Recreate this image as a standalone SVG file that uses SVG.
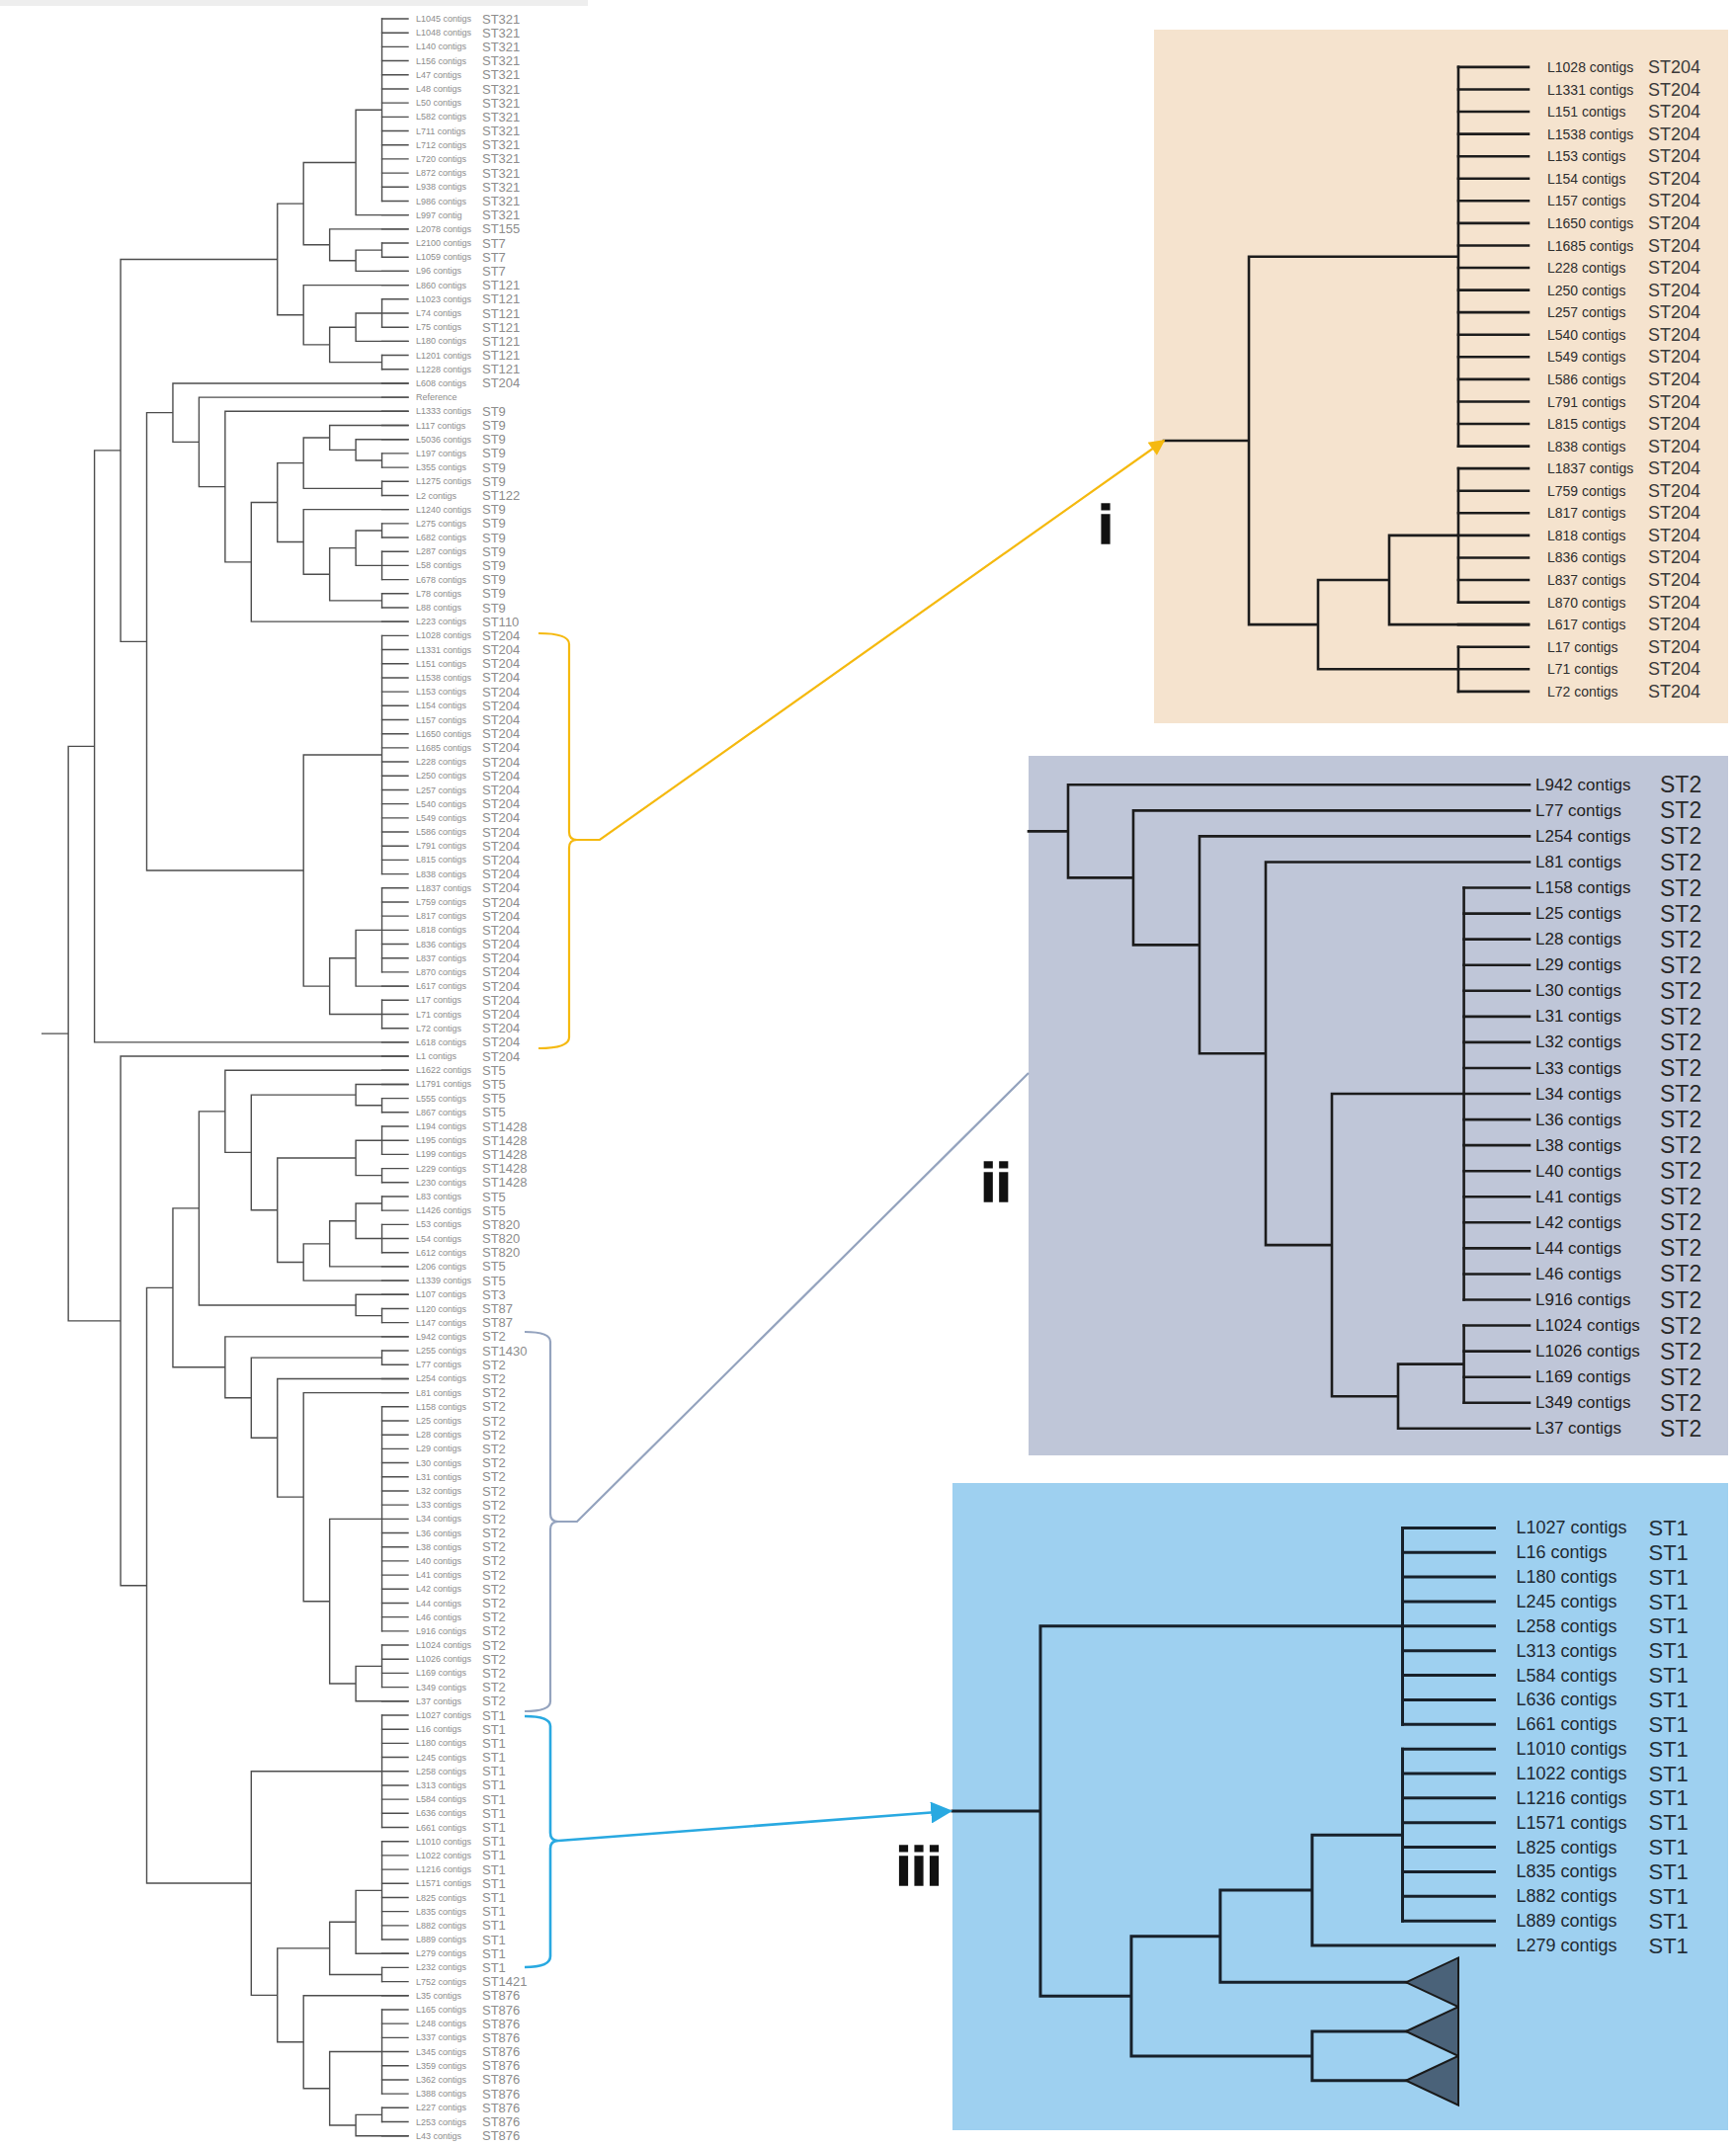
<svg xmlns="http://www.w3.org/2000/svg" width="1757" height="2173" viewBox="0 0 1757 2173">
<style>
text{font-family:"Liberation Sans",Arial,sans-serif;dominant-baseline:central}
.t{fill:none;stroke:#4d4d4d;stroke-width:1.4;stroke-linecap:square}
.p{fill:none;stroke:#1c1c1c;stroke-width:2.6;stroke-linecap:square}
.p3{fill:none;stroke:#17202a;stroke-width:3;stroke-linecap:square}
.n{font-size:9px;fill:#8c8c8c}
.s{font-size:13px;fill:#8c8c8c}
.n1{font-size:14px;fill:#2e2e2e}
.s1{font-size:18px;fill:#3a3a3a}
.n2{font-size:17px;fill:#1f1f1f}
.s2{font-size:23px;fill:#2a2a2a}
.n3{font-size:18px;fill:#1f2a33}
.s3{font-size:22px;fill:#243039}
.lab{font-size:56px;font-weight:bold;fill:#111;text-anchor:middle;dominant-baseline:auto;stroke:#111;stroke-width:1.5}
.tri{fill:#4a6279;stroke:#1a1a1a;stroke-width:2}
</style>
<defs>
<marker id="ay" viewBox="0 0 10 10" refX="9" refY="5" markerWidth="18" markerHeight="16" markerUnits="userSpaceOnUse" orient="auto"><path d="M0,0L10,5L0,10z" fill="#F5B90F"/></marker>
<marker id="ab" viewBox="0 0 10 10" refX="9" refY="5" markerWidth="22" markerHeight="22" markerUnits="userSpaceOnUse" orient="auto"><path d="M0,0L10,5L0,10z" fill="#29A9E1"/></marker>
</defs>
<rect width="1757" height="2173" fill="#ffffff"/>
<rect x="0" y="0" width="595" height="6" fill="#eeeeee"/>

<g id="left-tree" transform="matrix(26.45 0 0 14.19 42.7 19)">
<path class="t" vector-effect="non-scaling-stroke" d="M0 72.384H1M1 51.895V92.874M1 51.895H2M1 92.874H3
M2 30.789V73M2 30.789H3M2 73H14
M3 17.156V44.422M3 17.156H9M3 44.422H4
M9 13.188V21.125M9 13.188H10M9 21.125H10
M10 10.25V16.125M10 10.25H12M10 16.125H11
M12 6.5V14M12 6.5H13M12 14H14M13 0V13
M11 15V17.25M11 15H14M11 17.25H12
M12 16.5V18M12 16.5H13M12 18H14M13 16V17
M10 19V23.25M10 19H14M10 23.25H11
M11 22V24.5M11 22H12M11 24.5H13
M12 21V23M12 21H13M12 23H14M13 20V22M13 24V25
M4 28.094V60.75M4 28.094H5M4 60.75H10
M5 26V30.188M5 26H14M5 30.188H6
M6 27V33.375M6 27H14M6 33.375H7
M7 28V38.75M7 28H14M7 38.75H8
M8 34.5V43M8 34.5H9M8 43H14
M9 31.688V37.313M9 31.688H10M9 37.313H10
M10 29.875V33.5M10 29.875H11M10 33.5H13
M11 29V30.75M11 29H14M11 30.75H12
M12 30V31.5M12 30H14M12 31.5H13M13 31V32M13 33V34
M10 35V39.625M10 35H14M10 39.625H11
M11 37.75V41.5M11 37.75H12M11 41.5H13
M12 36.5V39M12 36.5H13M12 39H13M13 36V37M13 38V40M13 41V42
M10 52.5V69M10 52.5H13M10 69H11M13 44V61
M11 67V71M11 67H12M11 71H13
M12 65V69M12 65H13M12 69H14M13 62V68M13 70V72
M3 74V111.747M3 74H14M3 111.747H4
M4 90.51V132.984M4 90.51H5M4 132.984H8
M5 84.84V96.18M5 84.84H6M5 96.18H7
M6 77.93V91.75M6 77.93H7M6 91.75H12
M7 75V80.859M7 75H14M7 80.859H8
M8 76.75V84.969M8 76.75H12M8 84.969H9
M12 76V77.5M12 76H14M12 77.5H13M13 77V78
M9 81.25V88.688M9 81.25H12M9 88.688H10
M12 80V82.5M12 80H13M12 82.5H13M13 79V81M13 82V83
M10 87.375V90M10 87.375H11M10 90H14
M11 85.75V89M11 85.75H12M11 89H14
M12 84.5V87M12 84.5H13M12 87H13M13 84V85M13 86V88
M12 91V92.5M12 91H14M12 92.5H13M13 92V93
M7 94V98.359M7 94H14M7 98.359H8
M8 95.5V101.219M8 95.5H13M8 101.219H9M13 95V96
M9 97V105.438M9 97H14M9 105.438H10
M10 98V112.875M10 98H14M10 112.875H11
M11 107V118.75M11 107H13M11 118.75H12M13 99V115
M12 117.5V120M12 117.5H13M12 120H14M13 116V119
M8 125V140.969M8 125H13M8 140.969H9M13 121V129
M9 137.625V144.313M9 137.625H11M9 144.313H10
M11 135.75V139.5M11 135.75H12M11 139.5H13
M12 133.5V138M12 133.5H13M12 138H14M13 130V137M13 139V140
M10 141V147.625M10 141H14M10 147.625H11
M11 145V150.25M11 145H13M11 150.25H12M13 142V148
M12 149.5V151M12 149.5H13M12 151H14M13 149V150"/>
<path class="t" vector-effect="non-scaling-stroke" d="M13 0h1m-1 1h1m-1 1h1m-1 1h1m-1 1h1m-1 1h1m-1 1h1m-1 1h1m-1 1h1m-1 1h1
M13 10h1m-1 1h1m-1 1h1m-1 1h1m-1 1h1m-1 1h1m-1 1h1m-1 1h1m-1 1h1m-1 1h1
M13 20h1m-1 1h1m-1 1h1m-1 1h1m-1 1h1m-1 1h1m-1 1h1m-1 1h1m-1 1h1m-1 1h1
M13 30h1m-1 1h1m-1 1h1m-1 1h1m-1 1h1m-1 1h1m-1 1h1m-1 1h1m-1 1h1m-1 1h1
M13 40h1m-1 1h1m-1 1h1m-1 1h1m-1 1h1m-1 1h1m-1 1h1m-1 1h1m-1 1h1m-1 1h1
M13 50h1m-1 1h1m-1 1h1m-1 1h1m-1 1h1m-1 1h1m-1 1h1m-1 1h1m-1 1h1m-1 1h1
M13 60h1m-1 1h1m-1 1h1m-1 1h1m-1 1h1m-1 1h1m-1 1h1m-1 1h1m-1 1h1m-1 1h1
M13 70h1m-1 1h1m-1 1h1m-1 1h1m-1 1h1m-1 1h1m-1 1h1m-1 1h1m-1 1h1m-1 1h1
M13 80h1m-1 1h1m-1 1h1m-1 1h1m-1 1h1m-1 1h1m-1 1h1m-1 1h1m-1 1h1m-1 1h1
M13 90h1m-1 1h1m-1 1h1m-1 1h1m-1 1h1m-1 1h1m-1 1h1m-1 1h1m-1 1h1m-1 1h1
M13 100h1m-1 1h1m-1 1h1m-1 1h1m-1 1h1m-1 1h1m-1 1h1m-1 1h1m-1 1h1m-1 1h1
M13 110h1m-1 1h1m-1 1h1m-1 1h1m-1 1h1m-1 1h1m-1 1h1m-1 1h1m-1 1h1m-1 1h1
M13 120h1m-1 1h1m-1 1h1m-1 1h1m-1 1h1m-1 1h1m-1 1h1m-1 1h1m-1 1h1m-1 1h1
M13 130h1m-1 1h1m-1 1h1m-1 1h1m-1 1h1m-1 1h1m-1 1h1m-1 1h1m-1 1h1m-1 1h1
M13 140h1m-1 1h1m-1 1h1m-1 1h1m-1 1h1m-1 1h1m-1 1h1m-1 1h1m-1 1h1m-1 1h1
M13 150h1m-1 1h1"/>
</g>

<g id="left-labels">
<text class="n" x="421" y="19.0">L1045 contigs</text><text class="s" x="488" y="19.0">ST321</text>
<text class="n" x="421" y="33.2">L1048 contigs</text><text class="s" x="488" y="33.2">ST321</text>
<text class="n" x="421" y="47.4">L140 contigs</text><text class="s" x="488" y="47.4">ST321</text>
<text class="n" x="421" y="61.6">L156 contigs</text><text class="s" x="488" y="61.6">ST321</text>
<text class="n" x="421" y="75.8">L47 contigs</text><text class="s" x="488" y="75.8">ST321</text>
<text class="n" x="421" y="90.0">L48 contigs</text><text class="s" x="488" y="90.0">ST321</text>
<text class="n" x="421" y="104.1">L50 contigs</text><text class="s" x="488" y="104.1">ST321</text>
<text class="n" x="421" y="118.3">L582 contigs</text><text class="s" x="488" y="118.3">ST321</text>
<text class="n" x="421" y="132.5">L711 contigs</text><text class="s" x="488" y="132.5">ST321</text>
<text class="n" x="421" y="146.7">L712 contigs</text><text class="s" x="488" y="146.7">ST321</text>
<text class="n" x="421" y="160.9">L720 contigs</text><text class="s" x="488" y="160.9">ST321</text>
<text class="n" x="421" y="175.1">L872 contigs</text><text class="s" x="488" y="175.1">ST321</text>
<text class="n" x="421" y="189.3">L938 contigs</text><text class="s" x="488" y="189.3">ST321</text>
<text class="n" x="421" y="203.5">L986 contigs</text><text class="s" x="488" y="203.5">ST321</text>
<text class="n" x="421" y="217.7">L997 contig</text><text class="s" x="488" y="217.7">ST321</text>
<text class="n" x="421" y="231.9">L2078 contigs</text><text class="s" x="488" y="231.9">ST155</text>
<text class="n" x="421" y="246.0">L2100 contigs</text><text class="s" x="488" y="246.0">ST7</text>
<text class="n" x="421" y="260.2">L1059 contigs</text><text class="s" x="488" y="260.2">ST7</text>
<text class="n" x="421" y="274.4">L96 contigs</text><text class="s" x="488" y="274.4">ST7</text>
<text class="n" x="421" y="288.6">L860 contigs</text><text class="s" x="488" y="288.6">ST121</text>
<text class="n" x="421" y="302.8">L1023 contigs</text><text class="s" x="488" y="302.8">ST121</text>
<text class="n" x="421" y="317.0">L74 contigs</text><text class="s" x="488" y="317.0">ST121</text>
<text class="n" x="421" y="331.2">L75 contigs</text><text class="s" x="488" y="331.2">ST121</text>
<text class="n" x="421" y="345.4">L180 contigs</text><text class="s" x="488" y="345.4">ST121</text>
<text class="n" x="421" y="359.6">L1201 contigs</text><text class="s" x="488" y="359.6">ST121</text>
<text class="n" x="421" y="373.8">L1228 contigs</text><text class="s" x="488" y="373.8">ST121</text>
<text class="n" x="421" y="387.9">L608 contigs</text><text class="s" x="488" y="387.9">ST204</text>
<text class="n" x="421" y="402.1">Reference</text>
<text class="n" x="421" y="416.3">L1333 contigs</text><text class="s" x="488" y="416.3">ST9</text>
<text class="n" x="421" y="430.5">L117 contigs</text><text class="s" x="488" y="430.5">ST9</text>
<text class="n" x="421" y="444.7">L5036 contigs</text><text class="s" x="488" y="444.7">ST9</text>
<text class="n" x="421" y="458.9">L197 contigs</text><text class="s" x="488" y="458.9">ST9</text>
<text class="n" x="421" y="473.1">L355 contigs</text><text class="s" x="488" y="473.1">ST9</text>
<text class="n" x="421" y="487.3">L1275 contigs</text><text class="s" x="488" y="487.3">ST9</text>
<text class="n" x="421" y="501.5">L2 contigs</text><text class="s" x="488" y="501.5">ST122</text>
<text class="n" x="421" y="515.7">L1240 contigs</text><text class="s" x="488" y="515.7">ST9</text>
<text class="n" x="421" y="529.8">L275 contigs</text><text class="s" x="488" y="529.8">ST9</text>
<text class="n" x="421" y="544.0">L682 contigs</text><text class="s" x="488" y="544.0">ST9</text>
<text class="n" x="421" y="558.2">L287 contigs</text><text class="s" x="488" y="558.2">ST9</text>
<text class="n" x="421" y="572.4">L58 contigs</text><text class="s" x="488" y="572.4">ST9</text>
<text class="n" x="421" y="586.6">L678 contigs</text><text class="s" x="488" y="586.6">ST9</text>
<text class="n" x="421" y="600.8">L78 contigs</text><text class="s" x="488" y="600.8">ST9</text>
<text class="n" x="421" y="615.0">L88 contigs</text><text class="s" x="488" y="615.0">ST9</text>
<text class="n" x="421" y="629.2">L223 contigs</text><text class="s" x="488" y="629.2">ST110</text>
<text class="n" x="421" y="643.4">L1028 contigs</text><text class="s" x="488" y="643.4">ST204</text>
<text class="n" x="421" y="657.6">L1331 contigs</text><text class="s" x="488" y="657.6">ST204</text>
<text class="n" x="421" y="671.7">L151 contigs</text><text class="s" x="488" y="671.7">ST204</text>
<text class="n" x="421" y="685.9">L1538 contigs</text><text class="s" x="488" y="685.9">ST204</text>
<text class="n" x="421" y="700.1">L153 contigs</text><text class="s" x="488" y="700.1">ST204</text>
<text class="n" x="421" y="714.3">L154 contigs</text><text class="s" x="488" y="714.3">ST204</text>
<text class="n" x="421" y="728.5">L157 contigs</text><text class="s" x="488" y="728.5">ST204</text>
<text class="n" x="421" y="742.7">L1650 contigs</text><text class="s" x="488" y="742.7">ST204</text>
<text class="n" x="421" y="756.9">L1685 contigs</text><text class="s" x="488" y="756.9">ST204</text>
<text class="n" x="421" y="771.1">L228 contigs</text><text class="s" x="488" y="771.1">ST204</text>
<text class="n" x="421" y="785.3">L250 contigs</text><text class="s" x="488" y="785.3">ST204</text>
<text class="n" x="421" y="799.5">L257 contigs</text><text class="s" x="488" y="799.5">ST204</text>
<text class="n" x="421" y="813.6">L540 contigs</text><text class="s" x="488" y="813.6">ST204</text>
<text class="n" x="421" y="827.8">L549 contigs</text><text class="s" x="488" y="827.8">ST204</text>
<text class="n" x="421" y="842.0">L586 contigs</text><text class="s" x="488" y="842.0">ST204</text>
<text class="n" x="421" y="856.2">L791 contigs</text><text class="s" x="488" y="856.2">ST204</text>
<text class="n" x="421" y="870.4">L815 contigs</text><text class="s" x="488" y="870.4">ST204</text>
<text class="n" x="421" y="884.6">L838 contigs</text><text class="s" x="488" y="884.6">ST204</text>
<text class="n" x="421" y="898.8">L1837 contigs</text><text class="s" x="488" y="898.8">ST204</text>
<text class="n" x="421" y="913.0">L759 contigs</text><text class="s" x="488" y="913.0">ST204</text>
<text class="n" x="421" y="927.2">L817 contigs</text><text class="s" x="488" y="927.2">ST204</text>
<text class="n" x="421" y="941.4">L818 contigs</text><text class="s" x="488" y="941.4">ST204</text>
<text class="n" x="421" y="955.5">L836 contigs</text><text class="s" x="488" y="955.5">ST204</text>
<text class="n" x="421" y="969.7">L837 contigs</text><text class="s" x="488" y="969.7">ST204</text>
<text class="n" x="421" y="983.9">L870 contigs</text><text class="s" x="488" y="983.9">ST204</text>
<text class="n" x="421" y="998.1">L617 contigs</text><text class="s" x="488" y="998.1">ST204</text>
<text class="n" x="421" y="1012.3">L17 contigs</text><text class="s" x="488" y="1012.3">ST204</text>
<text class="n" x="421" y="1026.5">L71 contigs</text><text class="s" x="488" y="1026.5">ST204</text>
<text class="n" x="421" y="1040.7">L72 contigs</text><text class="s" x="488" y="1040.7">ST204</text>
<text class="n" x="421" y="1054.9">L618 contigs</text><text class="s" x="488" y="1054.9">ST204</text>
<text class="n" x="421" y="1069.1">L1 contigs</text><text class="s" x="488" y="1069.1">ST204</text>
<text class="n" x="421" y="1083.3">L1622 contigs</text><text class="s" x="488" y="1083.3">ST5</text>
<text class="n" x="421" y="1097.4">L1791 contigs</text><text class="s" x="488" y="1097.4">ST5</text>
<text class="n" x="421" y="1111.6">L555 contigs</text><text class="s" x="488" y="1111.6">ST5</text>
<text class="n" x="421" y="1125.8">L867 contigs</text><text class="s" x="488" y="1125.8">ST5</text>
<text class="n" x="421" y="1140.0">L194 contigs</text><text class="s" x="488" y="1140.0">ST1428</text>
<text class="n" x="421" y="1154.2">L195 contigs</text><text class="s" x="488" y="1154.2">ST1428</text>
<text class="n" x="421" y="1168.4">L199 contigs</text><text class="s" x="488" y="1168.4">ST1428</text>
<text class="n" x="421" y="1182.6">L229 contigs</text><text class="s" x="488" y="1182.6">ST1428</text>
<text class="n" x="421" y="1196.8">L230 contigs</text><text class="s" x="488" y="1196.8">ST1428</text>
<text class="n" x="421" y="1211.0">L83 contigs</text><text class="s" x="488" y="1211.0">ST5</text>
<text class="n" x="421" y="1225.2">L1426 contigs</text><text class="s" x="488" y="1225.2">ST5</text>
<text class="n" x="421" y="1239.3">L53 contigs</text><text class="s" x="488" y="1239.3">ST820</text>
<text class="n" x="421" y="1253.5">L54 contigs</text><text class="s" x="488" y="1253.5">ST820</text>
<text class="n" x="421" y="1267.7">L612 contigs</text><text class="s" x="488" y="1267.7">ST820</text>
<text class="n" x="421" y="1281.9">L206 contigs</text><text class="s" x="488" y="1281.9">ST5</text>
<text class="n" x="421" y="1296.1">L1339 contigs</text><text class="s" x="488" y="1296.1">ST5</text>
<text class="n" x="421" y="1310.3">L107 contigs</text><text class="s" x="488" y="1310.3">ST3</text>
<text class="n" x="421" y="1324.5">L120 contigs</text><text class="s" x="488" y="1324.5">ST87</text>
<text class="n" x="421" y="1338.7">L147 contigs</text><text class="s" x="488" y="1338.7">ST87</text>
<text class="n" x="421" y="1352.9">L942 contigs</text><text class="s" x="488" y="1352.9">ST2</text>
<text class="n" x="421" y="1367.1">L255 contigs</text><text class="s" x="488" y="1367.1">ST1430</text>
<text class="n" x="421" y="1381.2">L77 contigs</text><text class="s" x="488" y="1381.2">ST2</text>
<text class="n" x="421" y="1395.4">L254 contigs</text><text class="s" x="488" y="1395.4">ST2</text>
<text class="n" x="421" y="1409.6">L81 contigs</text><text class="s" x="488" y="1409.6">ST2</text>
<text class="n" x="421" y="1423.8">L158 contigs</text><text class="s" x="488" y="1423.8">ST2</text>
<text class="n" x="421" y="1438.0">L25 contigs</text><text class="s" x="488" y="1438.0">ST2</text>
<text class="n" x="421" y="1452.2">L28 contigs</text><text class="s" x="488" y="1452.2">ST2</text>
<text class="n" x="421" y="1466.4">L29 contigs</text><text class="s" x="488" y="1466.4">ST2</text>
<text class="n" x="421" y="1480.6">L30 contigs</text><text class="s" x="488" y="1480.6">ST2</text>
<text class="n" x="421" y="1494.8">L31 contigs</text><text class="s" x="488" y="1494.8">ST2</text>
<text class="n" x="421" y="1509.0">L32 contigs</text><text class="s" x="488" y="1509.0">ST2</text>
<text class="n" x="421" y="1523.1">L33 contigs</text><text class="s" x="488" y="1523.1">ST2</text>
<text class="n" x="421" y="1537.3">L34 contigs</text><text class="s" x="488" y="1537.3">ST2</text>
<text class="n" x="421" y="1551.5">L36 contigs</text><text class="s" x="488" y="1551.5">ST2</text>
<text class="n" x="421" y="1565.7">L38 contigs</text><text class="s" x="488" y="1565.7">ST2</text>
<text class="n" x="421" y="1579.9">L40 contigs</text><text class="s" x="488" y="1579.9">ST2</text>
<text class="n" x="421" y="1594.1">L41 contigs</text><text class="s" x="488" y="1594.1">ST2</text>
<text class="n" x="421" y="1608.3">L42 contigs</text><text class="s" x="488" y="1608.3">ST2</text>
<text class="n" x="421" y="1622.5">L44 contigs</text><text class="s" x="488" y="1622.5">ST2</text>
<text class="n" x="421" y="1636.7">L46 contigs</text><text class="s" x="488" y="1636.7">ST2</text>
<text class="n" x="421" y="1650.9">L916 contigs</text><text class="s" x="488" y="1650.9">ST2</text>
<text class="n" x="421" y="1665.0">L1024 contigs</text><text class="s" x="488" y="1665.0">ST2</text>
<text class="n" x="421" y="1679.2">L1026 contigs</text><text class="s" x="488" y="1679.2">ST2</text>
<text class="n" x="421" y="1693.4">L169 contigs</text><text class="s" x="488" y="1693.4">ST2</text>
<text class="n" x="421" y="1707.6">L349 contigs</text><text class="s" x="488" y="1707.6">ST2</text>
<text class="n" x="421" y="1721.8">L37 contigs</text><text class="s" x="488" y="1721.8">ST2</text>
<text class="n" x="421" y="1736.0">L1027 contigs</text><text class="s" x="488" y="1736.0">ST1</text>
<text class="n" x="421" y="1750.2">L16 contigs</text><text class="s" x="488" y="1750.2">ST1</text>
<text class="n" x="421" y="1764.4">L180 contigs</text><text class="s" x="488" y="1764.4">ST1</text>
<text class="n" x="421" y="1778.6">L245 contigs</text><text class="s" x="488" y="1778.6">ST1</text>
<text class="n" x="421" y="1792.8">L258 contigs</text><text class="s" x="488" y="1792.8">ST1</text>
<text class="n" x="421" y="1806.9">L313 contigs</text><text class="s" x="488" y="1806.9">ST1</text>
<text class="n" x="421" y="1821.1">L584 contigs</text><text class="s" x="488" y="1821.1">ST1</text>
<text class="n" x="421" y="1835.3">L636 contigs</text><text class="s" x="488" y="1835.3">ST1</text>
<text class="n" x="421" y="1849.5">L661 contigs</text><text class="s" x="488" y="1849.5">ST1</text>
<text class="n" x="421" y="1863.7">L1010 contigs</text><text class="s" x="488" y="1863.7">ST1</text>
<text class="n" x="421" y="1877.9">L1022 contigs</text><text class="s" x="488" y="1877.9">ST1</text>
<text class="n" x="421" y="1892.1">L1216 contigs</text><text class="s" x="488" y="1892.1">ST1</text>
<text class="n" x="421" y="1906.3">L1571 contigs</text><text class="s" x="488" y="1906.3">ST1</text>
<text class="n" x="421" y="1920.5">L825 contigs</text><text class="s" x="488" y="1920.5">ST1</text>
<text class="n" x="421" y="1934.7">L835 contigs</text><text class="s" x="488" y="1934.7">ST1</text>
<text class="n" x="421" y="1948.8">L882 contigs</text><text class="s" x="488" y="1948.8">ST1</text>
<text class="n" x="421" y="1963.0">L889 contigs</text><text class="s" x="488" y="1963.0">ST1</text>
<text class="n" x="421" y="1977.2">L279 contigs</text><text class="s" x="488" y="1977.2">ST1</text>
<text class="n" x="421" y="1991.4">L232 contigs</text><text class="s" x="488" y="1991.4">ST1</text>
<text class="n" x="421" y="2005.6">L752 contigs</text><text class="s" x="488" y="2005.6">ST1421</text>
<text class="n" x="421" y="2019.8">L35 contigs</text><text class="s" x="488" y="2019.8">ST876</text>
<text class="n" x="421" y="2034.0">L165 contigs</text><text class="s" x="488" y="2034.0">ST876</text>
<text class="n" x="421" y="2048.2">L248 contigs</text><text class="s" x="488" y="2048.2">ST876</text>
<text class="n" x="421" y="2062.4">L337 contigs</text><text class="s" x="488" y="2062.4">ST876</text>
<text class="n" x="421" y="2076.6">L345 contigs</text><text class="s" x="488" y="2076.6">ST876</text>
<text class="n" x="421" y="2090.7">L359 contigs</text><text class="s" x="488" y="2090.7">ST876</text>
<text class="n" x="421" y="2104.9">L362 contigs</text><text class="s" x="488" y="2104.9">ST876</text>
<text class="n" x="421" y="2119.1">L388 contigs</text><text class="s" x="488" y="2119.1">ST876</text>
<text class="n" x="421" y="2133.3">L227 contigs</text><text class="s" x="488" y="2133.3">ST876</text>
<text class="n" x="421" y="2147.5">L253 contigs</text><text class="s" x="488" y="2147.5">ST876</text>
<text class="n" x="421" y="2161.7">L43 contigs</text><text class="s" x="488" y="2161.7">ST876</text>
</g>

<g id="panel-i">
<rect x="1168" y="30" width="581" height="702" fill="#F5E3CE"/>
<g transform="matrix(1 0 0 22.57 0 67.9)">
<path class="p" vector-effect="non-scaling-stroke" d="M1178 16.75H1264M1264 8.5V25M1264 8.5H1476M1264 25H1334M1334 23V27M1334 23H1406M1334 27H1476M1406 21V25M1406 21H1476M1406 25H1547M1476 0V17M1476 18V24M1476 26V28"/>
<path class="p" vector-effect="non-scaling-stroke" d="M1476 0h71m-71 1h71m-71 1h71m-71 1h71m-71 1h71m-71 1h71m-71 1h71m-71 1h71m-71 1h71m-71 1h71m-71 1h71m-71 1h71m-71 1h71m-71 1h71m-71 1h71m-71 1h71m-71 1h71m-71 1h71m-71 1h71m-71 1h71m-71 1h71m-71 1h71m-71 1h71m-71 1h71m-71 1h71m-71 1h71m-71 1h71m-71 1h71m-71 1h71"/>
</g>
<text class="n1" x="1566" y="67.9">L1028 contigs</text><text class="s1" x="1668" y="67.9">ST204</text>
<text class="n1" x="1566" y="90.5">L1331 contigs</text><text class="s1" x="1668" y="90.5">ST204</text>
<text class="n1" x="1566" y="113.0">L151 contigs</text><text class="s1" x="1668" y="113.0">ST204</text>
<text class="n1" x="1566" y="135.6">L1538 contigs</text><text class="s1" x="1668" y="135.6">ST204</text>
<text class="n1" x="1566" y="158.2">L153 contigs</text><text class="s1" x="1668" y="158.2">ST204</text>
<text class="n1" x="1566" y="180.8">L154 contigs</text><text class="s1" x="1668" y="180.8">ST204</text>
<text class="n1" x="1566" y="203.3">L157 contigs</text><text class="s1" x="1668" y="203.3">ST204</text>
<text class="n1" x="1566" y="225.9">L1650 contigs</text><text class="s1" x="1668" y="225.9">ST204</text>
<text class="n1" x="1566" y="248.5">L1685 contigs</text><text class="s1" x="1668" y="248.5">ST204</text>
<text class="n1" x="1566" y="271.0">L228 contigs</text><text class="s1" x="1668" y="271.0">ST204</text>
<text class="n1" x="1566" y="293.6">L250 contigs</text><text class="s1" x="1668" y="293.6">ST204</text>
<text class="n1" x="1566" y="316.2">L257 contigs</text><text class="s1" x="1668" y="316.2">ST204</text>
<text class="n1" x="1566" y="338.7">L540 contigs</text><text class="s1" x="1668" y="338.7">ST204</text>
<text class="n1" x="1566" y="361.3">L549 contigs</text><text class="s1" x="1668" y="361.3">ST204</text>
<text class="n1" x="1566" y="383.9">L586 contigs</text><text class="s1" x="1668" y="383.9">ST204</text>
<text class="n1" x="1566" y="406.5">L791 contigs</text><text class="s1" x="1668" y="406.5">ST204</text>
<text class="n1" x="1566" y="429.0">L815 contigs</text><text class="s1" x="1668" y="429.0">ST204</text>
<text class="n1" x="1566" y="451.6">L838 contigs</text><text class="s1" x="1668" y="451.6">ST204</text>
<text class="n1" x="1566" y="474.2">L1837 contigs</text><text class="s1" x="1668" y="474.2">ST204</text>
<text class="n1" x="1566" y="496.7">L759 contigs</text><text class="s1" x="1668" y="496.7">ST204</text>
<text class="n1" x="1566" y="519.3">L817 contigs</text><text class="s1" x="1668" y="519.3">ST204</text>
<text class="n1" x="1566" y="541.9">L818 contigs</text><text class="s1" x="1668" y="541.9">ST204</text>
<text class="n1" x="1566" y="564.4">L836 contigs</text><text class="s1" x="1668" y="564.4">ST204</text>
<text class="n1" x="1566" y="587.0">L837 contigs</text><text class="s1" x="1668" y="587.0">ST204</text>
<text class="n1" x="1566" y="609.6">L870 contigs</text><text class="s1" x="1668" y="609.6">ST204</text>
<text class="n1" x="1566" y="632.2">L617 contigs</text><text class="s1" x="1668" y="632.2">ST204</text>
<text class="n1" x="1566" y="654.7">L17 contigs</text><text class="s1" x="1668" y="654.7">ST204</text>
<text class="n1" x="1566" y="677.3">L71 contigs</text><text class="s1" x="1668" y="677.3">ST204</text>
<text class="n1" x="1566" y="699.8">L72 contigs</text><text class="s1" x="1668" y="699.8">ST204</text>
</g>

<g id="panel-ii">
<rect x="1041" y="765" width="708" height="708" fill="#BFC6D8"/>
<g transform="matrix(1 0 0 26.06 0 794.3)">
<path class="p" vector-effect="non-scaling-stroke" d="M1041 1.805H1081M1081 0V3.609M1081 0H1548M1081 3.609H1147M1147 1V6.219M1147 1H1548M1147 6.219H1214M1214 2V10.438M1214 2H1548M1214 10.438H1281M1281 3V17.875M1281 3H1548M1281 17.875H1348M1348 12V23.75M1348 12H1481.6M1348 23.75H1415M1415 22.5V25M1415 22.5H1481.6M1415 25H1548M1481.6 4V20M1481.6 21V24"/>
<path class="p" vector-effect="non-scaling-stroke" d="M1481.6 4h66.4m-66.4 1h66.4m-66.4 1h66.4m-66.4 1h66.4m-66.4 1h66.4m-66.4 1h66.4m-66.4 1h66.4m-66.4 1h66.4m-66.4 1h66.4m-66.4 1h66.4m-66.4 1h66.4m-66.4 1h66.4m-66.4 1h66.4m-66.4 1h66.4m-66.4 1h66.4m-66.4 1h66.4m-66.4 1h66.4m-66.4 1h66.4m-66.4 1h66.4m-66.4 1h66.4m-66.4 1h66.4"/>
</g>
<text class="n2" x="1554" y="794.3">L942 contigs</text><text class="s2" x="1680" y="794.3">ST2</text>
<text class="n2" x="1554" y="820.4">L77 contigs</text><text class="s2" x="1680" y="820.4">ST2</text>
<text class="n2" x="1554" y="846.4">L254 contigs</text><text class="s2" x="1680" y="846.4">ST2</text>
<text class="n2" x="1554" y="872.5">L81 contigs</text><text class="s2" x="1680" y="872.5">ST2</text>
<text class="n2" x="1554" y="898.5">L158 contigs</text><text class="s2" x="1680" y="898.5">ST2</text>
<text class="n2" x="1554" y="924.6">L25 contigs</text><text class="s2" x="1680" y="924.6">ST2</text>
<text class="n2" x="1554" y="950.7">L28 contigs</text><text class="s2" x="1680" y="950.7">ST2</text>
<text class="n2" x="1554" y="976.7">L29 contigs</text><text class="s2" x="1680" y="976.7">ST2</text>
<text class="n2" x="1554" y="1002.8">L30 contigs</text><text class="s2" x="1680" y="1002.8">ST2</text>
<text class="n2" x="1554" y="1028.8">L31 contigs</text><text class="s2" x="1680" y="1028.8">ST2</text>
<text class="n2" x="1554" y="1054.9">L32 contigs</text><text class="s2" x="1680" y="1054.9">ST2</text>
<text class="n2" x="1554" y="1081.0">L33 contigs</text><text class="s2" x="1680" y="1081.0">ST2</text>
<text class="n2" x="1554" y="1107.0">L34 contigs</text><text class="s2" x="1680" y="1107.0">ST2</text>
<text class="n2" x="1554" y="1133.1">L36 contigs</text><text class="s2" x="1680" y="1133.1">ST2</text>
<text class="n2" x="1554" y="1159.1">L38 contigs</text><text class="s2" x="1680" y="1159.1">ST2</text>
<text class="n2" x="1554" y="1185.2">L40 contigs</text><text class="s2" x="1680" y="1185.2">ST2</text>
<text class="n2" x="1554" y="1211.3">L41 contigs</text><text class="s2" x="1680" y="1211.3">ST2</text>
<text class="n2" x="1554" y="1237.3">L42 contigs</text><text class="s2" x="1680" y="1237.3">ST2</text>
<text class="n2" x="1554" y="1263.4">L44 contigs</text><text class="s2" x="1680" y="1263.4">ST2</text>
<text class="n2" x="1554" y="1289.4">L46 contigs</text><text class="s2" x="1680" y="1289.4">ST2</text>
<text class="n2" x="1554" y="1315.5">L916 contigs</text><text class="s2" x="1680" y="1315.5">ST2</text>
<text class="n2" x="1554" y="1341.6">L1024 contigs</text><text class="s2" x="1680" y="1341.6">ST2</text>
<text class="n2" x="1554" y="1367.6">L1026 contigs</text><text class="s2" x="1680" y="1367.6">ST2</text>
<text class="n2" x="1554" y="1393.7">L169 contigs</text><text class="s2" x="1680" y="1393.7">ST2</text>
<text class="n2" x="1554" y="1419.7">L349 contigs</text><text class="s2" x="1680" y="1419.7">ST2</text>
<text class="n2" x="1554" y="1445.8">L37 contigs</text><text class="s2" x="1680" y="1445.8">ST2</text>
</g>

<g id="panel-iii">
<rect x="964" y="1501" width="785" height="655" fill="#9ED0F0"/>
<g transform="matrix(1 0 0 24.86 0 1546.4)">
<path class="p3" vector-effect="non-scaling-stroke" d="M964 11.53H1053M1053 4V19.063M1053 4H1419.5M1053 19.063H1145M1145 16.625V21.5M1145 16.625H1235M1145 21.5H1328M1235 14.75V18.5M1235 14.75H1328M1235 18.5H1423M1328 12.5V17M1328 12.5H1419.5M1328 17H1512.5M1328 20.5V22.5M1328 20.5H1423M1328 22.5H1423M1419.5 0V8M1419.5 9V16"/>
<path class="p3" vector-effect="non-scaling-stroke" d="M1419.5 0h93m-93 1h93m-93 1h93m-93 1h93m-93 1h93m-93 1h93m-93 1h93m-93 1h93m-93 1h93m-93 1h93m-93 1h93m-93 1h93m-93 1h93m-93 1h93m-93 1h93m-93 1h93m-93 1h93"/>
<polygon class="tri" vector-effect="non-scaling-stroke" points="1423,18.5 1476,17.5 1476,19.5"/>
<polygon class="tri" vector-effect="non-scaling-stroke" points="1423,20.5 1476,19.5 1476,21.5"/>
<polygon class="tri" vector-effect="non-scaling-stroke" points="1423,22.5 1476,21.5 1476,23.5"/>
</g>
<text class="n3" x="1534.5" y="1546.4">L1027 contigs</text><text class="s3" x="1668.5" y="1546.4">ST1</text>
<text class="n3" x="1534.5" y="1571.3">L16 contigs</text><text class="s3" x="1668.5" y="1571.3">ST1</text>
<text class="n3" x="1534.5" y="1596.1">L180 contigs</text><text class="s3" x="1668.5" y="1596.1">ST1</text>
<text class="n3" x="1534.5" y="1621.0">L245 contigs</text><text class="s3" x="1668.5" y="1621.0">ST1</text>
<text class="n3" x="1534.5" y="1645.8">L258 contigs</text><text class="s3" x="1668.5" y="1645.8">ST1</text>
<text class="n3" x="1534.5" y="1670.7">L313 contigs</text><text class="s3" x="1668.5" y="1670.7">ST1</text>
<text class="n3" x="1534.5" y="1695.6">L584 contigs</text><text class="s3" x="1668.5" y="1695.6">ST1</text>
<text class="n3" x="1534.5" y="1720.4">L636 contigs</text><text class="s3" x="1668.5" y="1720.4">ST1</text>
<text class="n3" x="1534.5" y="1745.3">L661 contigs</text><text class="s3" x="1668.5" y="1745.3">ST1</text>
<text class="n3" x="1534.5" y="1770.1">L1010 contigs</text><text class="s3" x="1668.5" y="1770.1">ST1</text>
<text class="n3" x="1534.5" y="1795.0">L1022 contigs</text><text class="s3" x="1668.5" y="1795.0">ST1</text>
<text class="n3" x="1534.5" y="1819.9">L1216 contigs</text><text class="s3" x="1668.5" y="1819.9">ST1</text>
<text class="n3" x="1534.5" y="1844.7">L1571 contigs</text><text class="s3" x="1668.5" y="1844.7">ST1</text>
<text class="n3" x="1534.5" y="1869.6">L825 contigs</text><text class="s3" x="1668.5" y="1869.6">ST1</text>
<text class="n3" x="1534.5" y="1894.4">L835 contigs</text><text class="s3" x="1668.5" y="1894.4">ST1</text>
<text class="n3" x="1534.5" y="1919.3">L882 contigs</text><text class="s3" x="1668.5" y="1919.3">ST1</text>
<text class="n3" x="1534.5" y="1944.2">L889 contigs</text><text class="s3" x="1668.5" y="1944.2">ST1</text>
<text class="n3" x="1534.5" y="1969.0">L279 contigs</text><text class="s3" x="1668.5" y="1969.0">ST1</text>
</g>

<g id="connectors" fill="none" stroke-width="2.2">
<path stroke="#F5B90F" d="M545,641 Q576,641 576,652 V842 Q576,850 584,850 Q576,850 576,858 V1050 Q576,1061 545,1061"/>
<path stroke="#F5B90F" d="M584,850 H607 L1178,446" marker-end="url(#ay)"/>
<path stroke="#94A3BE" d="M531,1348 Q557,1348 557,1358 V1532 Q557,1540 565,1540 Q557,1540 557,1548 V1722 Q557,1732 531,1732"/>
<path stroke="#94A3BE" d="M565,1540 H584 L1041,1086"/>
<path stroke="#29A9E1" stroke-width="2.6" d="M531,1737 Q557,1737 557,1747 V1855 Q557,1863 565,1863 Q557,1863 557,1871 V1980 Q557,1991 531,1991"/>
<path stroke="#29A9E1" stroke-width="2.6" d="M565,1863 L962,1833" marker-end="url(#ab)"/>
</g>

<g id="panel-labels">
<text class="lab" x="1119" y="550">i</text>
<text class="lab" x="1008" y="1216">ii</text>
<text class="lab" x="930" y="1908">iii</text>
</g>
</svg>
